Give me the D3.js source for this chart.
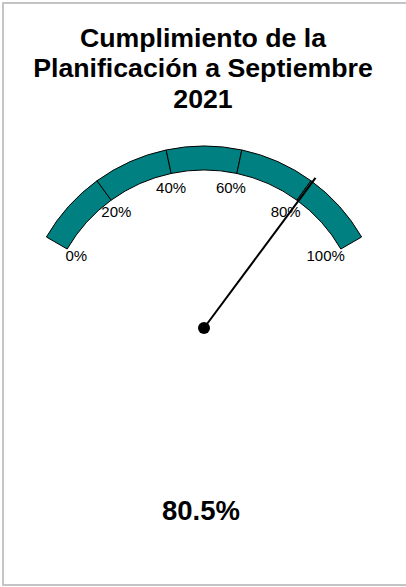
<!DOCTYPE html>
<html><head><meta charset="utf-8">
<script src="https://cdn.jsdelivr.net/npm/d3@7"></script>
<style>html,body{margin:0;padding:0;background:#fff}</style>
</head><body>
<svg id="c" width="406" height="587"></svg>
<script>
const titleLines = ["Cumplimiento de la", "Planificación a Septiembre", "2021"];
const segmentStarts = [0, 20, 40, 60, 80];
const segmentEnds = [20, 40, 60, 80, 100];
const tickValues = [0, 20, 40, 60, 80, 100];
const tickLabels = ["0%", "20%", "40%", "60%", "80%", "100%"];
const gaugeValue = [80.5];
const valueLabel = ["80.5%"];

const svg = d3.select("#c");
const cx = 204, cy = 328;
const rOuter = 182, rInner = 158, rLabel = 144, rNeedle = 187;

svg.append("rect").attr("x", 3).attr("y", 3).attr("width", 404).attr("height", 582)
  .attr("fill", "#fff").attr("stroke", "#c4c4c4").attr("stroke-width", 2);

svg.selectAll("text.title").data(titleLines).enter().append("text")
  .attr("class", "title")
  .attr("x", 203).attr("y", (d, i) => 46.5 + i * 30.5)
  .attr("text-anchor", "middle")
  .attr("font-family", "Liberation Sans, Arial, sans-serif")
  .attr("font-weight", "bold").attr("font-size", 26.7).attr("fill", "#000")
  .text(d => d);

const ang = d3.scaleLinear().domain([0, 100]).range([-Math.PI / 3, Math.PI / 3]);
const arc = d3.arc().innerRadius(rInner).outerRadius(rOuter);
const g = svg.append("g").attr("transform", `translate(${cx},${cy})`);

g.selectAll("path.seg").data(segmentStarts.map((s, i) => [s, segmentEnds[i]])).enter()
  .append("path").attr("class", "seg")
  .attr("d", d => arc({startAngle: ang(d[0]), endAngle: ang(d[1])}))
  .attr("fill", "#008080").attr("stroke", "#000").attr("stroke-width", 1);

g.selectAll("text.tick").data(tickValues).enter().append("text")
  .attr("class", "tick")
  .attr("x", d => rLabel * Math.sin(ang(d)) - 3)
  .attr("y", d => -rLabel * Math.cos(ang(d)))
  .attr("text-anchor", "middle").attr("dy", "0.36em")
  .attr("font-family", "Liberation Sans, Arial, sans-serif")
  .attr("font-size", 15).attr("fill", "#000")
  .text((d, i) => tickLabels[i]);

g.selectAll("line.needle").data(gaugeValue).enter().append("line")
  .attr("class", "needle")
  .attr("x1", 0).attr("y1", 0)
  .attr("x2", d => rNeedle * Math.sin(ang(d)))
  .attr("y2", d => -rNeedle * Math.cos(ang(d)))
  .attr("stroke", "#000").attr("stroke-width", 2);

g.append("circle").attr("r", 6).attr("fill", "#000");

svg.selectAll("text.val").data(valueLabel).enter().append("text")
  .attr("class", "val")
  .attr("x", 201).attr("y", 519.5)
  .attr("text-anchor", "middle")
  .attr("font-family", "Liberation Sans, Arial, sans-serif")
  .attr("font-weight", "bold").attr("font-size", 27.5).attr("fill", "#000")
  .text(d => d);
</script>
</body></html>
